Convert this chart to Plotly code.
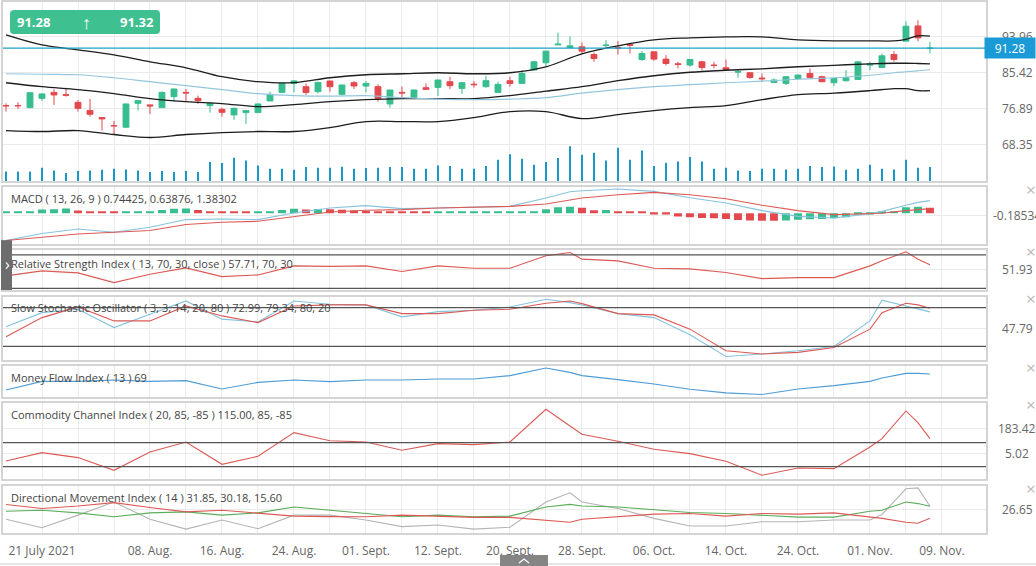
import plotly.graph_objects as go

# ---- price candles, one per session (index 0..77) ----
opens = [77.60, 77.62, 77.13, 79.33, 80.75, 80.21, 78.38, 76.42, 74.76, 72.86,
         72.46, 78.15, 77.77, 77.13, 79.74, 80.75, 79.33, 77.60, 76.72, 75.40,
         75.94, 75.94, 78.72, 80.75, 82.89, 82.11, 80.92, 83.46, 80.28, 83.05,
         82.27, 82.11, 78.00, 80.75, 79.57, 81.87, 81.94, 83.29, 81.70, 82.70,
         82.11, 80.75, 83.53, 82.89, 86.07, 87.80, 92.06, 91.42, 91.59, 89.77,
         91.90, 91.42, 92.13, 88.58, 90.40, 88.67, 87.56, 87.25, 88.03, 87.25,
         86.61, 85.59, 85.43, 84.17, 83.13, 82.89, 84.07, 85.26, 84.48, 83.05,
         83.53, 83.84, 87.25, 86.68, 89.77, 92.94, 96.57, 91.24]
highs = [78.15, 78.38, 80.70, 80.54, 81.49, 81.87, 78.95, 79.19, 74.76, 73.97,
         78.08, 78.86, 77.84, 80.99, 81.63, 81.56, 79.97, 78.31, 77.13, 77.13,
         76.42, 78.08, 80.92, 82.99, 83.70, 82.89, 83.29, 83.46, 82.65, 83.46,
         83.46, 82.67, 81.32, 82.11, 81.40, 82.89, 83.77, 84.48, 83.15, 83.46,
         84.71, 83.29, 84.48, 86.07, 88.27, 90.64, 94.98, 94.12, 92.61, 90.24,
         93.18, 92.94, 92.13, 90.57, 90.40, 89.63, 88.03, 88.58, 88.27, 88.03,
         88.58, 86.07, 85.50, 85.26, 84.07, 84.55, 85.02, 86.44, 84.71, 84.17,
         86.07, 88.11, 88.03, 90.00, 90.57, 97.68, 97.92, 92.77]
lows = [76.18, 76.82, 76.96, 78.72, 77.77, 79.74, 76.18, 74.99, 71.67, 70.80,
        72.39, 76.42, 75.63, 77.13, 78.55, 78.72, 78.00, 75.94, 74.99, 74.21,
        73.26, 75.94, 78.72, 80.68, 80.75, 80.14, 80.54, 80.92, 80.21, 81.56,
        80.75, 78.55, 77.13, 79.50, 79.43, 81.32, 79.90, 81.56, 80.38, 81.87,
        81.87, 80.68, 82.11, 82.82, 85.97, 87.01, 91.99, 91.42, 90.00, 88.03,
        91.35, 89.77, 89.99, 88.27, 88.27, 87.16, 86.44, 86.85, 85.97, 86.44,
        86.07, 84.24, 84.00, 83.29, 82.99, 82.51, 83.77, 84.07, 83.22, 82.27,
        83.29, 83.77, 86.07, 86.61, 88.03, 92.94, 92.94, 90.00]
closes = [77.56, 77.58, 80.68, 80.38, 80.14, 80.09, 76.96, 75.54, 74.45, 72.79,
          78.00, 78.79, 77.53, 80.75, 81.56, 80.61, 78.79, 78.15, 76.01, 76.96,
          76.42, 78.00, 80.28, 82.89, 83.48, 80.75, 83.13, 82.11, 82.51, 82.27,
          82.89, 79.33, 81.32, 80.61, 81.32, 81.49, 83.70, 82.34, 83.05, 82.58,
          83.53, 82.67, 82.89, 85.26, 88.03, 90.57, 92.23, 91.82, 90.57, 88.82,
          92.00, 91.28, 91.99, 90.00, 88.67, 87.63, 87.39, 88.58, 86.68, 87.16,
          86.21, 85.66, 84.31, 84.00, 83.70, 84.48, 84.87, 84.31, 83.29, 84.07,
          84.24, 88.03, 87.49, 89.46, 88.58, 96.50, 93.72, 91.28]
volumes = [30, 30, 30, 41, 33, 25, 31, 33, 35, 38, 36, 33, 28, 31, 28, 31, 28, 58, 55, 71,
           63, 48, 38, 38, 35, 43, 41, 41, 44, 38, 40, 41, 43, 43, 38, 38, 48, 46, 38, 38,
           46, 65, 82, 68, 50, 58, 70, 106, 80, 86, 63, 101, 65, 93, 46, 56, 60, 73, 60, 38,
           41, 33, 31, 38, 38, 36, 38, 46, 43, 45, 35, 38, 50, 38, 36, 65, 41, 43]

# ---- bollinger bands + moving average, sampled sessions ----
band_idx = [0, 3, 6, 9, 12, 15, 18, 21, 24, 27, 30, 33, 36, 39, 42, 45, 48, 51, 54, 57,
            60, 63, 66, 69, 72, 74, 75, 76, 77]
bb_upper = [94.44, 92.06, 90.88, 89.69, 88.03, 86.61, 84.48, 83.29, 83.06, 84.24,
            84.95, 85.19, 85.43, 85.19, 85.43, 86.85, 89.93, 91.83, 93.25, 93.72,
            93.96, 93.96, 93.25, 93.01, 93.01, 93.01, 93.37, 94.20, 94.13]
bb_middle = [83.05, 82.11, 81.40, 80.45, 79.26, 78.55, 78.08, 77.36, 77.84, 78.55,
             79.02, 79.26, 79.26, 79.26, 79.97, 81.04, 82.11, 83.53, 84.71, 85.54,
             86.02, 86.37, 86.85, 87.20, 87.56, 87.68, 87.68, 87.63, 87.56]
bb_lower = [71.67, 71.44, 71.67, 70.73, 70.02, 70.73, 71.20, 71.44, 71.44, 72.39,
            73.81, 73.81, 73.81, 74.76, 76.18, 76.18, 74.52, 75.47, 76.42, 77.13,
            77.60, 79.02, 80.21, 80.57, 81.16, 81.63, 81.63, 81.16, 81.16]
ma_line = [85.19, 85.07, 84.95, 84.24, 83.29, 82.34, 81.40, 80.45, 79.97, 79.85,
           79.97, 79.50, 79.14, 79.02, 79.14, 79.50, 80.57, 81.40, 82.11, 82.58,
           83.05, 83.41, 83.88, 84.24, 84.83, 85.43, 85.66, 85.90, 86.14]

# ---- indicators, sampled sessions ----
ind_idx = [0, 3, 6, 9, 12, 15, 18, 21, 24, 27, 30, 33, 36, 39, 42, 45, 47, 48, 51, 54,
           57, 60, 63, 66, 69, 72, 73, 75, 76, 77]
macd_line = [-2.51, -1.87, -1.45, -1.75, -1.29, -0.58, -0.52, -0.58, 0.03, 0.49,
             0.71, 0.43, 0.49, 0.58, 0.64, 1.41, 2.00, 2.09, 2.24, 2.03,
             1.44, 0.95, 0.25, -0.28, -0.43, -0.03, 0.18, 0.74, 1.01, 1.17]
macd_signal = [-2.51, -2.21, -1.91, -1.75, -1.59, -1.04, -0.83, -0.74, -0.28, 0.12,
               0.28, 0.34, 0.49, 0.55, 0.64, 0.86, 1.26, 1.41, 1.72, 1.93,
               1.72, 1.35, 0.74, 0.25, -0.12, -0.06, 0.00, 0.25, 0.34, 0.43]
macd_hist = [0.10, 0.11, 0.12, 0.35, 0.38, 0.45, 0.25, 0.20, 0.12, 0.10,
             0.11, 0.12, 0.13, 0.30, 0.42, 0.45, 0.30, 0.20, 0.13, 0.11,
             0.10, 0.11, 0.13, 0.30, 0.42, 0.35, 0.40, 0.38, 0.33, 0.25,
             0.22, 0.18, 0.15, 0.13, 0.11, 0.09, 0.095, 0.10, 0.105, 0.11,
             0.115, 0.12, 0.125, 0.13, 0.17, 0.37, 0.55, 0.61, 0.52, 0.28,
             0.30, 0.20, 0.12, 0.10, -0.10, -0.12, -0.30, -0.37, -0.44, -0.46,
             -0.52, -0.61, -0.66, -0.68, -0.69, -0.66, -0.60, -0.55, -0.52, -0.46,
             -0.37, -0.12, -0.10, 0.10, 0.12, 0.55, 0.61, 0.52]
rsi = [44.8, 50.8, 48.4, 36.8, 46.8, 54.4, 44.0, 46.0, 56.8, 56.2,
       56.8, 50.0, 56.8, 54.0, 54.0, 68.8, 72.8, 64.8, 62.8, 54.0,
       53.2, 48.8, 41.6, 42.8, 42.8, 56.8, 62.8, 73.6, 64.8, 58.0]
stoch_k = [50.3, 72.3, 77.5, 49.2, 69.8, 90.3, 62.2, 58.0, 90.3, 85.2,
           84.2, 65.7, 73.8, 76.0, 81.1, 92.9, 87.7, 84.2, 70.8, 64.6,
           38.0, 4.6, 8.3, 13.4, 20.0, 59.5, 91.4, 82.6, 78.5, 73.4]
stoch_d = [34.9, 64.6, 81.1, 59.5, 59.5, 82.6, 67.2, 56.9, 82.6, 84.2,
           84.2, 70.8, 70.8, 76.0, 77.5, 86.8, 90.3, 86.2, 70.8, 68.8,
           46.8, 13.4, 8.3, 10.8, 18.5, 46.8, 72.3, 86.8, 84.2, 79.1]
mfi = [45.0, 57.9, 57.9, 60.0, 57.9, 59.0, 46.5, 56.4, 60.0, 57.5,
       60.0, 60.0, 61.5, 61.5, 66.5, 78.0, 71.4, 66.5, 60.5, 54.0,
       46.0, 40.5, 38.0, 46.5, 51.5, 57.9, 63.0, 69.9, 69.9, 69.0]
cci = [-45.3, 14.2, -21.2, -111.2, 18.4, 89.2, -68.7, -12.0, 155.8, 97.7,
       89.2, 30.5, 77.9, 70.8, 89.2, 320.9, 202.6, 143.8, 94.2, 37.5,
       7.1, -47.5, -146.6, -94.9, -99.2, 53.8, 113.3, 308.8, 226.7, 113.3]
dmi_plus = [33.3, 28.0, 31.4, 35.9, 29.3, 23.5, 25.7, 22.2, 17.8, 17.1,
            16.9, 19.1, 17.8, 16.1, 16.1, 12.5, 9.5, 13.5, 16.9, 20.4,
            21.4, 17.8, 21.4, 20.4, 22.2, 16.5, 14.8, 9.5, 8.2, 14.8]
dmi_minus = [24.4, 25.7, 22.2, 16.9, 22.2, 23.5, 19.1, 22.2, 30.1, 25.7,
             22.2, 16.9, 19.1, 16.9, 17.8, 30.1, 33.6, 31.4, 30.1, 26.7,
             22.7, 21.4, 19.1, 16.5, 16.5, 24.4, 25.7, 36.7, 34.6, 31.0]
adx = [13.5, 2.2, 19.1, 36.7, 13.5, 0.4, 12.5, 0.9, 19.1, 19.1,
       12.5, 3.7, 5.9, 0.4, 2.9, 36.7, 49.1, 36.7, 28.0, 14.8,
       4.6, 4.6, 10.3, 10.3, 12.5, 12.5, 20.0, 54.4, 55.7, 31.0]

# ---- axis labels ----
date_labels = {3: "21 July 2021", 12: "08. Aug.", 18: "16. Aug.", 24: "24. Aug.",
               30: "01. Sept.", 36: "12. Sept.", 42: "20. Sept.", 48: "28. Sept.",
               54: "06. Oct.", 60: "14. Oct.", 66: "24. Oct.", 72: "01. Nov.",
               78: "09. Nov."}
price_ticks = [93.96, 85.42, 76.89, 68.35]
last_close, last_high = 91.28, 91.32

GREEN = "#37bd8e"
RED = "#e2494e"
LBLUE = "#86c3de"
IRED = "#dc5a55"
GRID = "#ebebeb"
BORDER = "#d4d4d4"
W, H = 1036, 566
FONT = "Open Sans"


def py(p):
    return 1 - p / H


def pxl(p):
    return p / W


sessions = list(range(len(opens)))
fig = go.Figure()

fig.add_trace(go.Candlestick(
    x=sessions, open=opens, high=highs, low=lows, close=closes,
    increasing=dict(line=dict(color=GREEN, width=1), fillcolor=GREEN),
    decreasing=dict(line=dict(color=RED, width=1), fillcolor=RED),
    whiskerwidth=0, xaxis="x", yaxis="y"))
fig.add_trace(go.Bar(x=sessions, y=volumes, width=0.14, marker_color="#1b97c6",
                     marker_line_width=0, xaxis="x", yaxis="y8"))
for vals, col, w in [(bb_upper, "#1d1d1d", 1.3), (bb_middle, "#1d1d1d", 1.3),
                     (bb_lower, "#1d1d1d", 1.3), (ma_line, "#93c6de", 1.2)]:
    fig.add_trace(go.Scatter(x=band_idx, y=vals, mode="lines", line=dict(color=col, width=w),
                             line_shape="spline", xaxis="x", yaxis="y"))

hist_cols = [GREEN if i == 0 or macd_hist[i] >= macd_hist[i - 1] else RED
             for i in range(len(macd_hist))]
fig.add_trace(go.Bar(x=sessions, y=macd_hist, width=0.66, marker_color=hist_cols,
                     marker_line_width=0, xaxis="x2", yaxis="y2"))

lines = [(macd_line, LBLUE, "2"), (macd_signal, IRED, "2"),
         (rsi, IRED, "3"),
         (stoch_k, LBLUE, "4"), (stoch_d, IRED, "4"),
         (mfi, "#4d9cd6", "5"),
         (cci, IRED, "6"),
         (adx, "#b4b4b4", "7"), (dmi_minus, "#5aad5a", "7"), (dmi_plus, IRED, "7")]
for vals, col, n in lines:
    fig.add_trace(go.Scatter(x=ind_idx, y=vals, mode="lines", line=dict(color=col, width=1.1),
                             xaxis="x" + n, yaxis="y" + n))

# ---- panels ----
panels = [  # (axis number, top px, bottom px, y range, grid levels)
    ("", 0, 180, [59.58, 102.26], price_ticks),
    ("2", 186, 243, [-2.85, 2.4], [-0.18534]),
    ("3", 249, 289, [28, 75.6], [51.93]),
    ("4", 296, 359, [-0.5, 96.5], [47.79]),
    ("5", 365, 396, [34.95, 81.45], []),
    ("6", 402, 479, [-175, 368.3], [183.42, 5.02]),
    ("7", 486, 533, [-5, 57.8], [26.65]),
]
tick_idx = list(range(3, 79, 3))
xdom = [pxl(3), pxl(986)]
layout = dict(width=W, height=H, margin=dict(l=0, r=0, t=0, b=0), showlegend=False,
              plot_bgcolor="white", paper_bgcolor="white",
              font=dict(family=FONT, color="#666", size=11))
for n, top, bot, yr, grid in panels:
    last = n == "7"
    layout["xaxis" + n] = dict(
        domain=xdom, range=[-0.25, 81.67], anchor="y" + n,
        tickvals=tick_idx, ticktext=[date_labels.get(t, "") for t in tick_idx],
        showticklabels=last, ticks="outside" if last else "", ticklen=6,
        tickcolor="rgba(0,0,0,0)", tickfont=dict(size=12, color="#666"),
        showgrid=True, gridcolor=GRID, zeroline=False,
        showline=True, mirror=True, linecolor=BORDER, linewidth=1.5,
        rangeslider=dict(visible=False))
    if n:
        layout["xaxis" + n]["matches"] = "x"
    layout["yaxis" + n] = dict(
        domain=[py(bot), py(top)], range=yr, anchor="x" + n, tickvals=grid,
        showticklabels=False, showgrid=True, gridcolor=GRID, zeroline=False,
        showline=True, mirror=True, linecolor=BORDER, linewidth=1.5)
layout["yaxis8"] = dict(overlaying="y", range=[0, 540], visible=False)
fig.update_layout(**layout)

# reference levels
for n, levels in [("3", [70, 30]), ("4", [80, 20]), ("6", [85, -85])]:
    for lv in levels:
        fig.add_shape(type="line", xref="x%s domain" % n, yref="y" + n, x0=0, x1=1, y0=lv, y1=lv,
                      line=dict(color="#555", width=1.2))
# last price line
fig.add_shape(type="line", xref="x domain", yref="y", x0=0, x1=1, y0=last_close, y1=last_close,
              line=dict(color="#1ea3c4", width=1.2))

# right-hand labels
ann = []
for n, _, _, _, grid in panels:
    for g in grid:
        txt = "%.5f" % g if n == "2" else "%.2f" % g
        ann.append(dict(x=pxl(1017), xref="paper", y=g, yref="y" + n, text=txt,
                        showarrow=False, xanchor="center", yanchor="middle",
                        font=dict(size=12, color="#666")))
ann.append(dict(x=1, xref="paper", y=last_close, yref="y", text="%.2f" % last_close,
                showarrow=False, xanchor="right", yanchor="middle", width=50, height=20,
                borderpad=0, bgcolor="#1a9ad6", font=dict(size=12, color="white")))

titles = [("MACD ( 13, 26, 9 ) 0.74425, 0.63876, 1.38302", 197),
          ("Relative Strength Index ( 13, 70, 30, close ) 57.71, 70, 30", 262),
          ("Slow Stochastic Oscillator ( 3, 3, 14, 20, 80 ) 72.99, 79.34, 80, 20", 307),
          ("Money Flow Index ( 13 ) 69", 377),
          ("Commodity Channel Index ( 20, 85, -85 ) 115.00, 85, -85", 414),
          ("Directional Movement Index ( 14 ) 31.85, 30.18, 15.60", 497)]
for txt, yy in titles:
    ann.append(dict(x=pxl(9), xref="paper", y=py(yy), yref="paper", text=txt, showarrow=False,
                    xanchor="left", yanchor="middle", font=dict(size=11, color="#444")))
for yy in [188, 250, 298, 367, 404, 488]:
    ann.append(dict(x=pxl(1031), xref="paper", y=py(yy), yref="paper", text="×", showarrow=False,
                    xanchor="center", yanchor="middle", font=dict(size=17, color="#b8b8b8")))

# header box
fig.add_shape(type="path", xref="paper", yref="paper", xsizemode="pixel", ysizemode="pixel",
              xanchor=0, yanchor=1,
              path="M 14,-8 L 156,-8 Q 160,-8 160,-12 L 160,-28 Q 160,-32 156,-32 "
                   "L 14,-32 Q 10,-32 10,-28 L 10,-12 Q 10,-8 14,-8 Z",
              fillcolor="#3fc091", line=dict(width=0))
for txt, xx, sz in [("<b>%.2f</b>" % last_close, 33, 13), ("↑", 86, 18),
                    ("<b>%.2f</b>" % last_high, 137, 13)]:
    ann.append(dict(x=pxl(xx), xref="paper", y=py(20), yref="paper", text=txt, showarrow=False,
                    xanchor="center", yanchor="middle", font=dict(size=sz, color="white")))

# side and bottom tabs
fig.add_shape(type="rect", xref="paper", yref="paper", x0=pxl(1), x1=pxl(12), y0=py(289), y1=py(239),
              fillcolor="#6d6d6d", line=dict(width=0))
ann.append(dict(x=pxl(7), xref="paper", y=py(263), yref="paper", text="›", showarrow=False,
                xanchor="center", yanchor="middle", font=dict(size=16, color="white")))
fig.add_shape(type="line", xref="paper", yref="paper", x0=0, x1=1, y0=py(564), y1=py(564),
              line=dict(color="#dddddd", width=1.5))
fig.add_shape(type="rect", xref="paper", yref="paper", x0=pxl(500), x1=pxl(548), y0=0, y1=py(555),
              fillcolor="#858585", line=dict(width=0))
fig.add_shape(type="path", xref="paper", yref="paper", xsizemode="pixel", ysizemode="pixel",
              xanchor=pxl(524), yanchor=py(561), path="M -5,-2 L 0,2 L 5,-2",
              line=dict(color="white", width=1.3))

fig.update_layout(annotations=ann)
fig.write_html("out.html", config={"displayModeBar": False},
               post_script="document.body.style.margin='0px';")
